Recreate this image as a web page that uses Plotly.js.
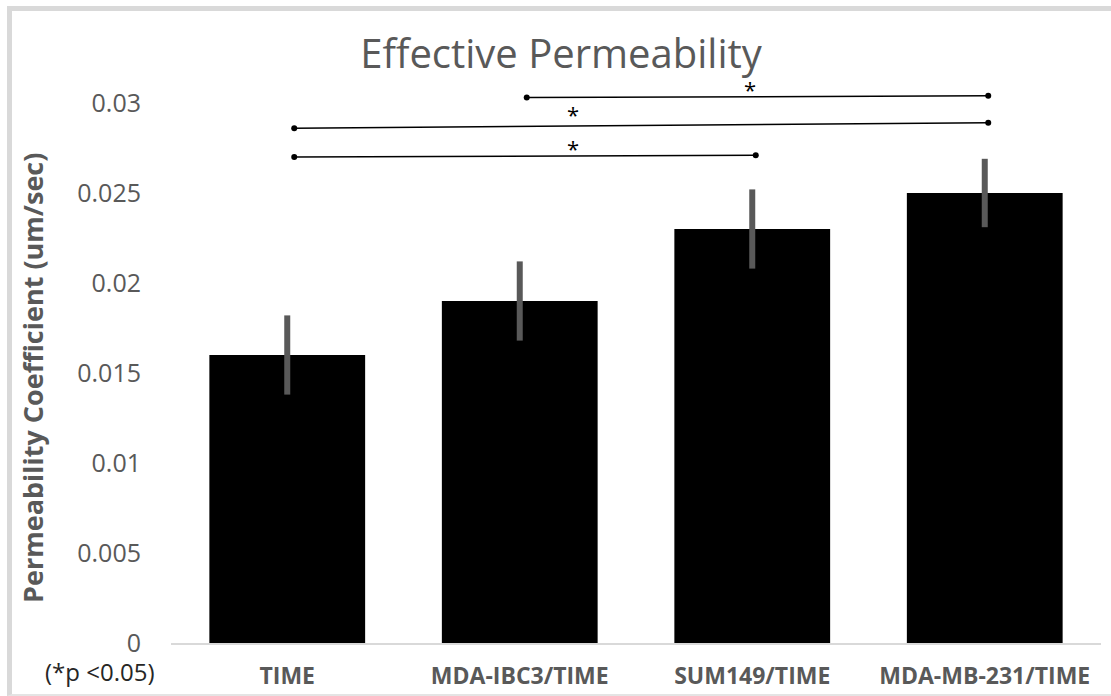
<!DOCTYPE html>
<html>
<head>
<meta charset="utf-8">
<script src="https://cdn.plot.ly/plotly-3.0.1.min.js"></script>
<style>
  html, body { margin: 0; padding: 0; background: #ffffff; }
  #wrap { position: relative; width: 1111px; height: 696px; overflow: hidden; }
  #chart { position: absolute; left: 0; top: 0; width: 1111px; height: 696px; }
  #frame { position: absolute; left: 7px; top: 6px; width: 1120px; height: 683px;
           border-left: 5px solid #d9d9d9; border-top: 5px solid #d9d9d9;
           border-bottom: 2px solid #e4e4e4; pointer-events: none; }
</style>
</head>
<body>
<div id="wrap">
  <div id="chart"></div>
  <div id="frame"></div>
</div>
<script>
// ---- data ----
const categories = ['TIME', 'MDA-IBC3/TIME', 'SUM149/TIME', 'MDA-MB-231/TIME'];
const meanValues = [0.016, 0.019, 0.023, 0.025];
const errorValues = [0.0022, 0.0022, 0.0022, 0.0019];

// significance brackets (category index from -> to, y at each end)
const sigFrom = [1, 0, 0];
const sigTo = [3, 3, 2];
const sigYFrom = [0.0303, 0.0286, 0.0270];
const sigYTo = [0.0304, 0.0289, 0.0271];
const sigStarX = [1.99, 1.23, 1.23];
const sigStarY = [0.0308, 0.0294, 0.0275];
const sigLabels = ['*', '*', '*'];

const yTickVals = [0, 0.005, 0.01, 0.015, 0.02, 0.025, 0.03];
const yTickText = ['0', '0.005', '0.01', '0.015', '0.02', '0.025', '0.03'];

const titleText = 'Effective Permeability';
const yTitleText = 'Permeability Coefficient (um/sec)';
const noteText = '(*p <0.05)';

const FONT = 'Open Sans, Noto Sans, sans-serif';
const GREY = '#595959';

const traces = [{
  type: 'bar',
  x: categories,
  y: meanValues,
  marker: { color: '#000000', line: { width: 0 } },
  error_y: { type: 'data', array: errorValues, visible: true, color: GREY, thickness: 6, width: 0 },
  hoverinfo: 'skip',
  showlegend: false
}];

for (let i = 0; i < sigFrom.length; i++) {
  traces.push({
    type: 'scatter',
    xaxis: 'x2',
    x: [sigFrom[i] + 0.03, sigTo[i] + 0.015],
    y: [sigYFrom[i], sigYTo[i]],
    mode: 'lines+markers',
    line: { color: '#000000', width: 1.5 },
    marker: { color: '#000000', size: 6 },
    hoverinfo: 'skip',
    showlegend: false
  });
}

const annotations = sigLabels.map((t, i) => ({
  xref: 'x2', yref: 'y', x: sigStarX[i], y: sigStarY[i],
  text: t, showarrow: false,
  font: { family: FONT, size: 22, color: '#000000' },
  xanchor: 'center', yanchor: 'middle'
}));
annotations.push({
  xref: 'paper', yref: 'paper', x: -0.076, y: -0.048,
  text: noteText, showarrow: false,
  font: { family: FONT, size: 24, color: '#262626' },
  xanchor: 'center', yanchor: 'middle'
});
annotations.push({
  xref: 'paper', yref: 'paper', x: -0.1484, y: 0.453,
  text: yTitleText, showarrow: false, textangle: -90,
  font: { family: FONT, size: 27, color: GREY, weight: 'bold' },
  xanchor: 'center', yanchor: 'middle'
});

const layout = {
  width: 1111, height: 696,
  paper_bgcolor: '#ffffff', plot_bgcolor: '#ffffff',
  margin: { l: 171, r: 10, t: 58, b: 53 },
  bargap: 0.33,
  title: {
    text: titleText,
    x: 0.505, xref: 'container', xanchor: 'center',
    y: 0.923, yref: 'container', yanchor: 'middle',
    font: { family: FONT, size: 40, color: GREY }
  },
  xaxis: {
    type: 'category',
    range: [-0.5, 3.5],
    showgrid: false, zeroline: false,
    showline: true, linecolor: '#d9d9d9', linewidth: 1.5,
    ticks: 'outside', ticklen: 12, tickcolor: 'rgba(0,0,0,0)',
    tickfont: { family: FONT, size: 23, color: GREY, weight: 'bold' },
    fixedrange: true
  },
  xaxis2: {
    overlaying: 'x', range: [-0.5, 3.5], visible: false, fixedrange: true
  },
  yaxis: {
    range: [0, 0.0325],
    tickvals: yTickVals, ticktext: yTickText,
    showgrid: false, zeroline: false, showline: false,
    ticks: 'outside', ticklen: 24, tickcolor: 'rgba(0,0,0,0)',
    tickfont: { family: FONT, size: 25, color: GREY },
    automargin: false,
    fixedrange: true
  },
  annotations: annotations
};

Plotly.newPlot('chart', traces, layout, { displayModeBar: false, staticPlot: true });
</script>
</body>
</html>
